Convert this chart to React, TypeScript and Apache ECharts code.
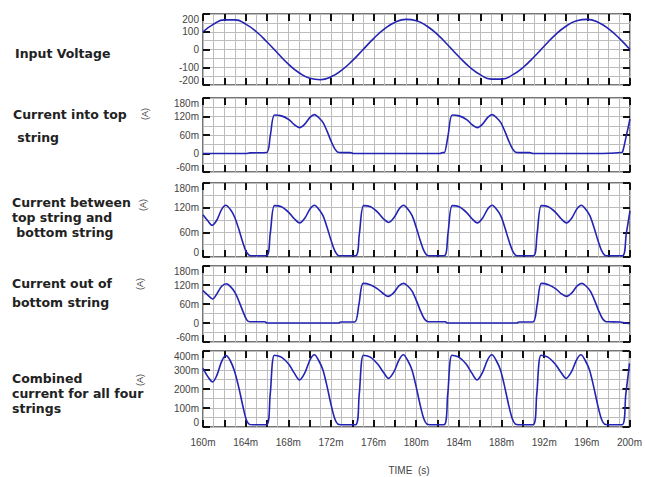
import React, { useEffect, useRef } from 'react';
import * as echarts from 'echarts';

// time axis in ms
const timeMin = 160;
const timeMax = 200;
const timeLabelStep = 4;

// Input voltage (V) vs time (ms)
const inputVoltage: [number, number][] = [
  [160, 100], [161, 143], [162, 167], [163, 167], [164, 143], [165, 100], [166, 42], [167, -21],
  [168, -82], [169, -131], [170, -162], [171, -170], [172, -154], [173, -116], [174, -63], [175, 0],
  [176, 63], [177, 116], [178, 154], [179, 170], [180, 162], [181, 131], [182, 82], [183, 21],
  [184, -42], [185, -100], [186, -143], [187, -167], [188, -167], [189, -143], [190, -100], [191, -42],
  [192, 21], [193, 82], [194, 131], [195, 162], [196, 170], [197, 154], [198, 116], [199, 63], [200, 0],
];

// Current into top string (mA)
const topString: [number, number][] = [
  [160, 0], [164.0, 0], [164.4, 2], [165.95, 3], [166.3, 57], [166.7, 125], [167.35, 122], [168.05, 110],
  [168.55, 94], [169.05, 84], [169.55, 96], [170.05, 118], [170.45, 126], [170.85, 116], [171.25, 100],
  [171.65, 70], [172.0, 40], [172.35, 15], [172.65, 4], [172.95, 3], [173.8, 3], [174.1, 0], [182.2, 0],
  [182.45, 3], [182.6, 3], [182.95, 57], [183.35, 125], [184.0, 122], [184.7, 110], [185.2, 94], [185.7, 84],
  [186.2, 96], [186.7, 118], [187.1, 126], [187.5, 116], [187.9, 100], [188.3, 70], [188.65, 40], [189.0, 15],
  [189.3, 4], [189.6, 3], [190.6, 3], [190.9, 0], [197.4, 0], [199.1, 3], [199.3, 5], [199.65, 57], [200, 112],
];

// Current between top string and bottom string (mA)
const betweenStrings: [number, number][] = [
  [160, 103], [160.45, 88], [160.85, 77], [161.3, 90], [161.75, 116], [162.15, 126], [162.55, 116], [162.95, 98],
  [163.35, 68], [163.7, 38], [164.05, 13], [164.35, 4], [164.65, 3],
  [165.95, 3], [166.3, 57], [166.7, 125], [167.35, 122], [168.05, 108], [168.55, 93], [169.05, 83], [169.55, 95],
  [170.05, 118], [170.45, 126], [170.85, 116], [171.25, 100], [171.65, 70], [172.0, 40], [172.35, 15], [172.65, 4], [172.95, 3],
  [174.3, 3], [174.65, 57], [175.05, 125], [175.7, 122], [176.4, 108], [176.9, 93], [177.4, 84], [177.9, 96],
  [178.4, 118], [178.8, 126], [179.2, 116], [179.6, 100], [180.0, 70], [180.35, 40], [180.7, 15], [181.0, 4], [181.3, 3],
  [182.6, 3], [182.95, 57], [183.35, 125], [184.0, 122], [184.7, 108], [185.2, 93], [185.7, 83], [186.2, 95],
  [186.7, 118], [187.1, 126], [187.5, 116], [187.9, 100], [188.3, 70], [188.65, 40], [189.0, 15], [189.3, 4], [189.6, 3],
  [190.95, 3], [191.3, 57], [191.7, 125], [192.35, 122], [193.05, 108], [193.55, 93], [194.05, 83], [194.55, 95],
  [195.05, 118], [195.45, 126], [195.85, 116], [196.25, 100], [196.65, 70], [197.0, 40], [197.35, 15], [197.65, 4], [197.95, 3],
  [199.3, 3], [199.65, 57], [200, 112],
];

// Current out of bottom string (mA)
const bottomString: [number, number][] = [
  [160, 102], [160.45, 88], [160.9, 76], [161.3, 92], [161.75, 116], [162.2, 124], [162.6, 114], [163.0, 96],
  [163.4, 66], [163.75, 36], [164.1, 10], [164.4, 4], [165.8, 4], [166.0, 0], [172.7, 0], [172.9, 3], [174.2, 3],
  [174.6, 57], [175.0, 125], [175.65, 121], [176.35, 108], [176.85, 94], [177.35, 84], [177.85, 95], [178.35, 117],
  [178.8, 125], [179.2, 116], [179.6, 100], [180.0, 70], [180.35, 40], [180.7, 15], [181.0, 5], [181.3, 4],
  [182.7, 4], [182.9, 0], [189.4, 0], [189.6, 3], [190.9, 3], [191.3, 57], [191.7, 125], [192.35, 121],
  [193.05, 108], [193.55, 93], [194.05, 84], [194.55, 95], [195.05, 117], [195.5, 125], [195.9, 116], [196.3, 100],
  [196.7, 70], [197.05, 40], [197.4, 15], [197.7, 5], [198.0, 4], [199.1, 3], [199.5, 0], [200, -2],
];

// Combined current for all four strings (mA)
const combined: [number, number][] = [
  [160, 308], [160.45, 265], [160.9, 237], [161.3, 272], [161.75, 345], [162.15, 376], [162.55, 350], [162.95, 295],
  [163.35, 210], [163.7, 120], [164.05, 40], [164.35, 14], [164.65, 12],
  [165.95, 12], [166.3, 170], [166.7, 378], [167.35, 368], [168.05, 330], [168.55, 285], [169.05, 248], [169.55, 285],
  [170.05, 355], [170.45, 380], [170.85, 350], [171.25, 300], [171.65, 210], [172.0, 120], [172.35, 45], [172.65, 15], [172.95, 12],
  [174.3, 12], [174.65, 170], [175.05, 378], [175.7, 368], [176.4, 330], [176.9, 290], [177.4, 256], [177.9, 290],
  [178.4, 355], [178.8, 380], [179.2, 350], [179.6, 300], [180.0, 210], [180.35, 120], [180.7, 45], [181.0, 15], [181.3, 12],
  [182.6, 12], [182.95, 170], [183.35, 378], [184.0, 368], [184.7, 330], [185.2, 285], [185.7, 248], [186.2, 285],
  [186.7, 355], [187.1, 380], [187.5, 350], [187.9, 300], [188.3, 210], [188.65, 120], [189.0, 45], [189.3, 15], [189.6, 12],
  [190.95, 12], [191.3, 170], [191.7, 378], [192.35, 368], [193.05, 330], [193.55, 290], [194.05, 256], [194.55, 290],
  [195.05, 355], [195.45, 380], [195.85, 350], [196.25, 300], [196.65, 210], [197.0, 120], [197.35, 45], [197.65, 15], [197.95, 12],
  [199.3, 12], [199.65, 170], [200, 335],
];

// y-axis ranges (min, max, label step) per panel
const yMins = [-200, -60, 0, -60, 0];
const yMaxs = [200, 180, 180, 180, 400];
const ySteps = [100, 60, 60, 60, 100];
const yUnitSuffix = ['', 'm', 'm', 'm', 'm'];

const panelTitles: string[] = [
  'Input Voltage',
  'Current into top\n string',
  'Current between\ntop string and\n bottom string',
  'Current out of\nbottom string',
  'Combined\ncurrent for all four\nstrings',
];
const unitLabel = '(A)';
const xAxisTitle = 'TIME  (s)';

const FONT = '"Liberation Sans", Arial, sans-serif';
const TITLE_FONT = '"DejaVu Sans", "Liberation Sans", Arial, sans-serif';
const LINE = '#2323b4';
const GRIDC = '#bdbdbd';

export default function App() {
  const ref = useRef<HTMLDivElement>(null);
  useEffect(() => {
    if (!ref.current) return;
    const chart = echarts.init(ref.current, null, { renderer: 'svg' });

    const tops = [14, 98, 183, 266, 351];
    const heights = [71, 74, 74, 76, 76];
    const series = [inputVoltage, topString, betweenStrings, bottomString, combined];

    const grid: any[] = [];
    const xAxis: any[] = [];
    const yAxis: any[] = [];
    const seriesOpt: any[] = [];
    const tickStyle = { color: '#111', width: 2 };

    for (let i = 0; i < 5; i++) {
      grid.push({
        left: 203, right: 15, top: tops[i], height: heights[i], show: true,
        borderColor: '#4a4a4a', borderWidth: 1.5, backgroundColor: 'transparent',
      });
      xAxis.push({
        gridIndex: i, type: 'value', min: timeMin, max: timeMax, interval: 2, position: 'bottom',
        axisLine: { show: false, onZero: false },
        axisTick: { show: true, inside: true, length: 7, lineStyle: tickStyle },
        splitLine: { show: true, lineStyle: { color: GRIDC, width: 1 } },
        minorTick: { show: false, splitNumber: 2 },
        minorSplitLine: { show: true, lineStyle: { color: GRIDC, width: 1 } },
        axisLabel: {
          show: i === 4, margin: 10, color: '#444', fontSize: 10, fontFamily: FONT,
          formatter: (v: number) => ((v - timeMin) % timeLabelStep === 0 ? `${v}m` : ''),
        },
      });
      xAxis.push({
        gridIndex: i, type: 'value', min: timeMin, max: timeMax, interval: 2, position: 'top',
        axisLine: { show: false, onZero: false },
        axisTick: { show: true, inside: true, length: 7, lineStyle: tickStyle },
        splitLine: { show: false },
        axisLabel: { show: false },
      });
      const suffix = yUnitSuffix[i];
      yAxis.push({
        gridIndex: i, type: 'value', min: yMins[i], max: yMaxs[i], interval: ySteps[i], position: 'left',
        axisLine: { show: false, onZero: false },
        axisTick: { show: true, inside: true, length: 7, lineStyle: tickStyle },
        splitLine: { show: true, lineStyle: { color: GRIDC, width: 1 } },
        minorTick: { show: false, splitNumber: 2 },
        minorSplitLine: { show: true, lineStyle: { color: GRIDC, width: 1 } },
        axisLabel: {
          margin: 4, color: '#444', fontSize: 10, fontFamily: FONT,
          verticalAlignMinLabel: 'bottom', verticalAlignMaxLabel: 'top',
          formatter: (v: number) => (v === 0 ? '0' : `${v}${suffix}`),
        },
      });
      yAxis.push({
        gridIndex: i, type: 'value', min: yMins[i], max: yMaxs[i], interval: ySteps[i], position: 'right',
        axisLine: { show: false, onZero: false },
        axisTick: { show: true, inside: true, length: 7, lineStyle: tickStyle },
        splitLine: { show: false },
        axisLabel: { show: false },
      });
      seriesOpt.push({
        type: 'line', xAxisIndex: 2 * i, yAxisIndex: 2 * i, data: series[i],
        showSymbol: false, smooth: i === 0 ? true : 0.3, clip: true,
        lineStyle: { color: LINE, width: 1.6 }, z: 5,
      });
    }

    // top-left anchor of each title block, and its line height
    const titlePos = [
      { x: 15, y: 45, lh: 16 },
      { x: 13, y: 103, lh: 23 },
      { x: 12, y: 195, lh: 15 },
      { x: 12, y: 274, lh: 19 },
      { x: 12, y: 371, lh: 15 },
    ];
    const graphic: any[] = [];
    panelTitles.forEach((t, i) => {
      graphic.push({
        type: 'text', x: titlePos[i].x, y: titlePos[i].y,
        style: {
          text: t, font: `bold 12.5px ${TITLE_FONT}`, fill: '#222', verticalAlign: 'top', align: 'left',
          lineHeight: titlePos[i].lh,
        },
      });
    });
    const unitPos = [{ x: 145, y: 114 }, { x: 143, y: 205 }, { x: 140, y: 284 }, { x: 140, y: 380 }];
    unitPos.forEach((p) => {
      graphic.push({
        type: 'text', x: p.x, y: p.y, rotation: Math.PI / 2,
        style: { text: unitLabel, font: `9px ${FONT}`, fill: '#444', verticalAlign: 'middle', align: 'center' },
      });
    });
    graphic.push({
      type: 'text', x: 409, y: 470,
      style: { text: xAxisTitle, font: `10px ${FONT}`, fill: '#444', verticalAlign: 'middle', align: 'center' },
    });

    chart.setOption({
      animation: false,
      backgroundColor: '#fff',
      grid, xAxis, yAxis, series: seriesOpt, graphic,
    });
    return () => chart.dispose();
  }, []);
  return (
    <div
      ref={ref}
      style={{ position: 'fixed', left: 0, top: 0, width: 645, height: 477, background: '#fff' }}
    />
  );
}
